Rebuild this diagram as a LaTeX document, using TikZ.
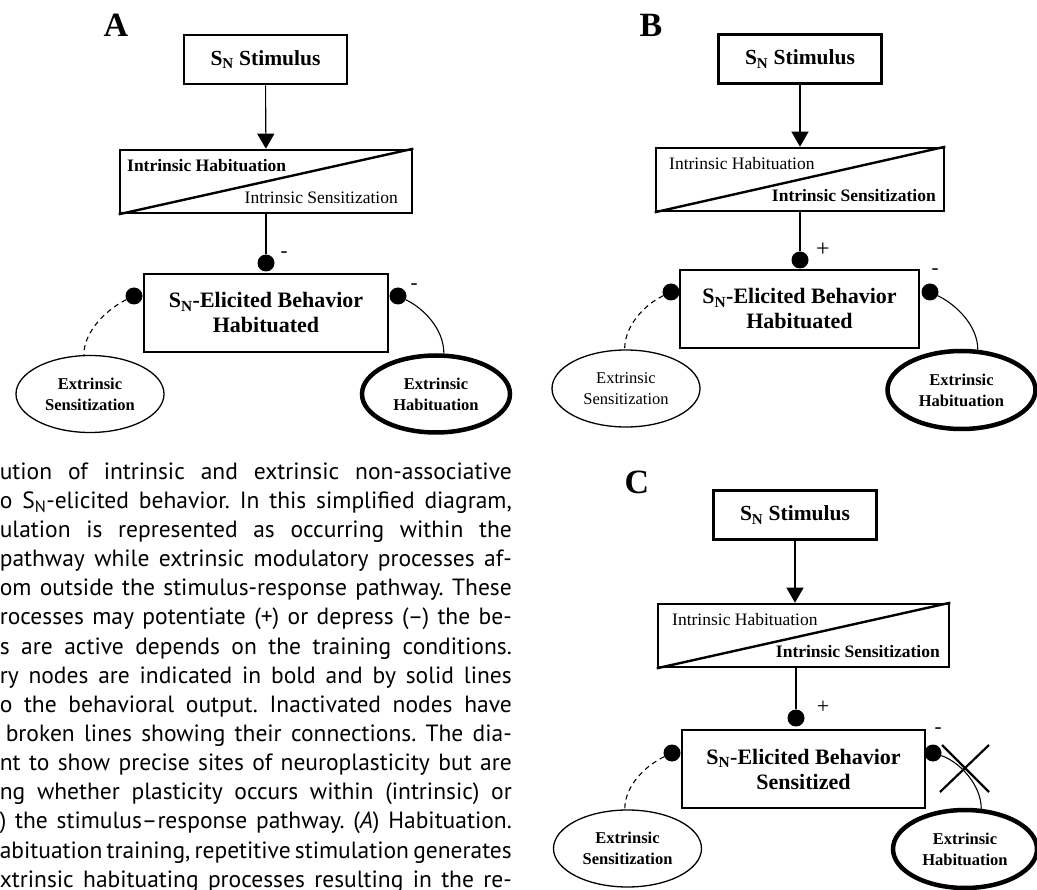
\documentclass[tikz,border=0pt]{standalone}
\usepackage{fontspec}
\setmainfont{Liberation Serif}
\newfontfamily\capfont{PT Sans}
\usetikzlibrary{shapes.geometric,arrows.meta}
\begin{document}
\begin{tikzpicture}[x=1pt,y=-1pt,
 lbl/.style={font=\fontsize{34}{34}\selectfont\bfseries, inner sep=0pt},
 box/.style={draw, line width=2.6pt, inner sep=0pt},
 stimbox/.style={box, minimum width=163pt, minimum height=49pt, font=\fontsize{21.5}{24}\selectfont\bfseries},
 intrbox/.style={box, minimum height=63pt},
 behbox/.style={box, minimum height=78pt, align=center, font=\fontsize{22}{25}\selectfont\bfseries},
 itxt/.style={inner sep=0pt, font=\fontsize{17.5}{20}\selectfont},
 itxtb/.style={inner sep=0pt, font=\fontsize{17.5}{20}\selectfont\bfseries},
 diag/.style={line width=2.4pt},
 conn/.style={line width=1.1pt},
 arr/.style={conn, -{Triangle[width=17pt,length=15pt]}},
 dashline/.style={conn, dash pattern=on 5pt off 4pt},
 dotn/.style={circle, fill=black, minimum size=17pt, inner sep=0pt},
 sgn/.style={inner sep=0pt, font=\fontsize{21}{21}\selectfont},
 ell/.style={ellipse, draw, inner sep=0pt, align=center, minimum width=148pt, minimum height=77pt},
 ellthin/.style={ell, line width=1.3pt, font=\fontsize{16.5}{21}\selectfont},
 ellthinb/.style={ell, line width=1.3pt, font=\fontsize{16.5}{21}\selectfont\bfseries},
 ellthick/.style={ell, line width=4.5pt, font=\fontsize{16.5}{21}\selectfont\bfseries},
 xline/.style={line width=2.2pt},
 capline/.style={anchor=mid east, inner sep=0pt, font=\capfont\fontsize{23.5}{29}\selectfont\frenchspacing},
]
\useasboundingbox (0,0) rectangle (1037,890);

% ---------------- Panel A ----------------
\node[lbl] (labA) at (116,25) {A};
\node[stimbox] (stimA) at (265.5,59.5) {S\textsubscript{N} Stimulus};
\node[intrbox, minimum width=292pt] (intrA) at (266,181.5) {};
\draw[diag] (intrA.south west) -- (intrA.north east);
\node[itxtb, anchor=west] (ihA) at (127,166) {Intrinsic Habituation};
\node[itxt, anchor=east] (isA) at (398,198) {Intrinsic Sensitization};
\draw[arr] (stimA) -- (intrA);
\node[dotn] (dAt) at (266,263) {};
\draw[conn] (intrA) -- (dAt);
\node[sgn] (sAt) at (284,255) {-};
\node[behbox, minimum width=244pt] (behA) at (266,313) {S\textsubscript{N}-Elicited Behavior\\Habituated};
\node[dotn] (dAl) at (134,296) {};
\node[dotn] (dAr) at (398,296) {};
\node[sgn] (sAr) at (414,287) {-};
\node[ellthinb] (eAl) at (90,394) {Extrinsic\\Sensitization};
\node[ellthick] (eAr) at (436,394) {Extrinsic\\Habituation};
\draw[dashline] (dAl) .. controls +(-25,12) and +(0,-25) .. (eAl.99);
\draw[conn] (dAr) .. controls +(25,12) and +(0,-25) .. (eAr.79);

% ---------------- Panel B ----------------
\node[lbl] (labB) at (651,25) {B};
\node[stimbox] (stimB) at (800,59) {S\textsubscript{N} Stimulus};
\node[intrbox, minimum width=288pt] (intrB) at (800,179.5) {};
\draw[diag] (intrB.south west) -- (intrB.north east);
\node[itxt, anchor=west] (ihB) at (669,164) {Intrinsic Habituation};
\node[itxtb, anchor=east] (isB) at (936,196) {Intrinsic Sensitization};
\draw[arr] (stimB) -- (intrB);
\node[dotn] (dBt) at (800,260) {};
\draw[conn] (intrB) -- (dBt);
\node[sgn, font=\fontsize{24}{24}\selectfont] (sBt) at (823,250) {+};
\node[behbox, minimum width=239pt] (behB) at (799.5,309) {S\textsubscript{N}-Elicited Behavior\\Habituated};
\node[dotn] (dBl) at (671,292) {};
\node[dotn] (dBr) at (930,292) {};
\node[sgn] (sBr) at (935,272) {-};
\node[ellthin] (eBl) at (626,388.5) {Extrinsic\\Sensitization};
\node[ellthick, minimum height=78pt] (eBr) at (961.5,390) {Extrinsic\\Habituation};
\draw[dashline] (dBl) .. controls +(-25,12) and +(0,-25) .. (eBl.92);
\draw[conn] (dBr) .. controls +(25,12) and +(0,-25) .. (eBr.68);

% ---------------- Panel C ----------------
\node[lbl] (labC) at (637,482) {C};
\node[stimbox] (stimC) at (795,515) {S\textsubscript{N} Stimulus};
\node[intrbox, minimum width=291pt] (intrC) at (803.5,635.5) {};
\draw[diag] (intrC.south west) -- (intrC.north east);
\node[itxt, anchor=west] (ihC) at (672,620) {Intrinsic Habituation};
\node[itxtb, anchor=east] (isC) at (940,652) {Intrinsic Sensitization};
\draw[arr] (stimC) -- (stimC |- intrC.north);
\node[dotn] (dCt) at (796,718) {};
\draw[conn] (intrC.south -| dCt) -- (dCt);
\node[sgn, font=\fontsize{22}{22}\selectfont] (sCt) at (823,707) {+};
\node[behbox, minimum width=243pt] (behC) at (803.5,769) {S\textsubscript{N}-Elicited Behavior\\Sensitized};
\node[dotn] (dCl) at (672,753) {};
\node[dotn] (dCr) at (933,753) {};
\node[sgn] (sCr) at (938,731) {-};
\node[ellthinb] (eCl) at (627.5,848.5) {Extrinsic\\Sensitization};
\node[ellthick, minimum width=144pt, minimum height=78pt] (eCr) at (965,849) {Extrinsic\\Habituation};
\draw[dashline] (dCl) .. controls +(-25,12) and +(0,-25) .. (eCl.94);
\draw[conn] (dCr) .. controls +(25,8) and +(0,-25) .. (eCr.68);
\draw[xline] (942,745) -- (989,792);
\draw[xline] (940,792) -- (989,745);

% ---------------- Caption (cut at the left edge) ----------------
\node[capline] (c1) at (512,477) {\makebox[512pt][s]{ution of intrinsic and extrinsic non-associative}};
\node[capline] (c2) at (512,506.1) {\makebox[512pt][s]{o S\textsubscript{N}-elicited behavior. In this simplified diagram,}};
\node[capline] (c3) at (512,535.3) {\makebox[512pt][s]{ulation is represented as occurring within the}};
\node[capline] (c4) at (512,564.4) {\makebox[512pt][s]{pathway while extrinsic modulatory processes af-}};
\node[capline] (c5) at (512,593.6) {\makebox[512pt][s]{om outside the stimulus-response pathway. These}};
\node[capline] (c6) at (512,622.7) {\makebox[512pt][s]{rocesses may potentiate (+) or depress (–) the be-}};
\node[capline] (c7) at (512,651.8) {\makebox[512pt][s]{s are active depends on the training conditions.}};
\node[capline] (c8) at (512,681) {\makebox[512pt][s]{ry nodes are indicated in bold and by solid lines}};
\node[capline] (c9) at (512,710.1) {\makebox[512pt][s]{o the behavioral output. Inactivated nodes have}};
\node[capline] (c10) at (512,739.3) {\makebox[512pt][s]{\hspace*{6pt}broken lines showing their connections. The dia-}};
\node[capline] (c11) at (512,768.4) {\makebox[512pt][s]{nt to show precise sites of neuroplasticity but are}};
\node[capline] (c12) at (512,797.5) {\makebox[512pt][s]{ng whether plasticity occurs within (intrinsic) or}};
\node[capline] (c13) at (512,826.7) {\makebox[512pt][s]{) the stimulus–response pathway. (\textit{A}) Habituation.}};
\node[capline] (c14) at (512,855.8) {\makebox[512pt][s]{abituation training, repetitive stimulation generates}};
\node[capline] (c15) at (512,885) {\makebox[512pt][s]{xtrinsic habituating processes resulting in the re-}};
\end{tikzpicture}
\end{document}
